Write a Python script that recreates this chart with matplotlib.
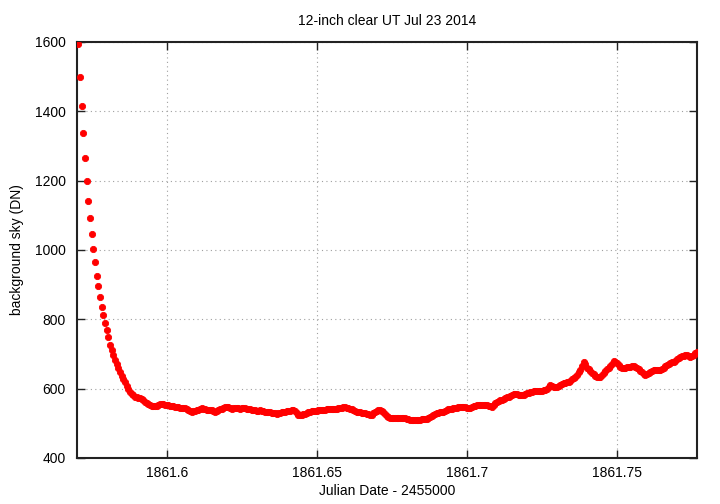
import numpy as np
import matplotlib
matplotlib.use("Agg")
import matplotlib.pyplot as plt

# observation cadence (Julian Date - 2455000)
start_jd = 1861.57043
step_jd = 0.000556

sky = [
    1594, 1500, 1415, 1337, 1266, 1200, 1141, 1091, 1046, 1002,
    964, 926, 897, 864, 836, 812, 789, 768, 748, 726,
    711, 696, 683, 671, 659, 647, 637, 627, 618, 608,
    599, 590, 586, 581, 577, 575, 573, 572, 569, 566,
    562, 558, 555, 553, 551, 550, 550, 551, 553, 555,
    556, 555, 554, 553, 552, 551, 550, 549, 548, 546,
    546, 545, 545, 545, 544, 541, 538, 535, 534, 535,
    536, 537, 539, 541, 543, 542, 541, 539, 538, 538,
    537, 535, 534, 535, 538, 540, 542, 545, 547, 548,
    546, 544, 542, 543, 543, 544, 543, 542, 543, 543,
    543, 542, 541, 540, 538, 538, 537, 536, 536, 537,
    536, 535, 534, 533, 533, 532, 531, 530, 529, 528,
    529, 531, 532, 533, 534, 535, 536, 536, 537, 537,
    536, 530, 524, 524, 525, 526, 528, 530, 532, 534,
    535, 535, 536, 536, 537, 538, 538, 538, 539, 540,
    540, 540, 541, 541, 542, 542, 543, 544, 545, 546,
    546, 545, 544, 542, 540, 538, 536, 534, 533, 532,
    531, 531, 530, 528, 526, 524, 525, 529, 533, 536,
    538, 537, 536, 532, 528, 522, 518, 516, 516, 516,
    516, 516, 516, 516, 515, 515, 514, 513, 512, 511,
    510, 510, 510, 510, 511, 511, 512, 512, 512, 513,
    516, 519, 522, 525, 528, 529, 530, 532, 533, 534,
    536, 538, 540, 541, 542, 543, 544, 545, 546, 547,
    547, 548, 546, 544, 543, 545, 548, 550, 551, 552,
    553, 554, 554, 553, 553, 552, 550, 549, 548, 553,
    559, 562, 564, 566, 567, 569, 572, 575, 577, 579,
    582, 585, 586, 585, 583, 582, 582, 583, 585, 587,
    588, 590, 591, 593, 593, 593, 593, 593, 594, 595,
    596, 600, 606, 611, 609, 606, 604, 605, 608, 611,
    613, 615, 617, 618, 620, 623, 627, 631, 634, 638,
    648, 655, 666, 676, 672, 660, 656, 652, 646, 641,
    636, 634, 633, 634, 638, 645, 652, 657, 661, 664,
    672, 680, 678, 673, 667, 662, 660, 660, 661, 662,
    662, 663, 664, 665, 663, 660, 656, 652, 648, 643,
    640, 642, 645, 648, 651, 653, 654, 654, 654, 654,
    656, 660, 664, 667, 670, 673, 676, 678, 681, 685,
    688, 691, 693, 695, 697, 696, 694, 692, 693, 697,
    702, 706,
]

xticks = [1861.6, 1861.65, 1861.7, 1861.75]
xtick_labels = ["1861.6", "1861.65", "1861.7", "1861.75"]
yticks = [400, 600, 800, 1000, 1200, 1400, 1600]

jd = start_jd + step_jd * np.arange(len(sky))

plt.rcParams['font.family'] = ['Liberation Sans', 'DejaVu Sans']
plt.rcParams['font.size'] = 10

fig = plt.figure(figsize=(7.2, 5.04), dpi=100)
ax = fig.add_axes([0.1069, 0.0913, 0.8611, 0.8254])

ax.plot(jd, sky, "o", color="#ff0000", markersize=4.5, markeredgewidth=0.6,
        markeredgecolor="#ff0000", zorder=3)

ax.set_xlim(1861.5700, 1861.7767)
ax.set_ylim(400, 1600)
ax.set_xticks(xticks)
ax.set_xticklabels(xtick_labels)
ax.set_yticks(yticks)

ax.grid(True, color="#a0a0a0", linestyle=(0, (1, 3)), linewidth=0.8)
ax.tick_params(direction="in", length=6, width=1, top=True, right=True,
               color="#222222")
ax.tick_params(axis="x", pad=6)
ax.tick_params(axis="y", pad=8)
for s in ax.spines.values():
    s.set_linewidth(1.5)
    s.set_color("#222222")

ax.set_title("12-inch clear UT Jul 23 2014", fontsize=10, pad=12)
ax.set_xlabel("Julian Date - 2455000", labelpad=3)
ax.set_ylabel("background sky (DN)", labelpad=8)

fig.savefig("out.png", dpi=100)
